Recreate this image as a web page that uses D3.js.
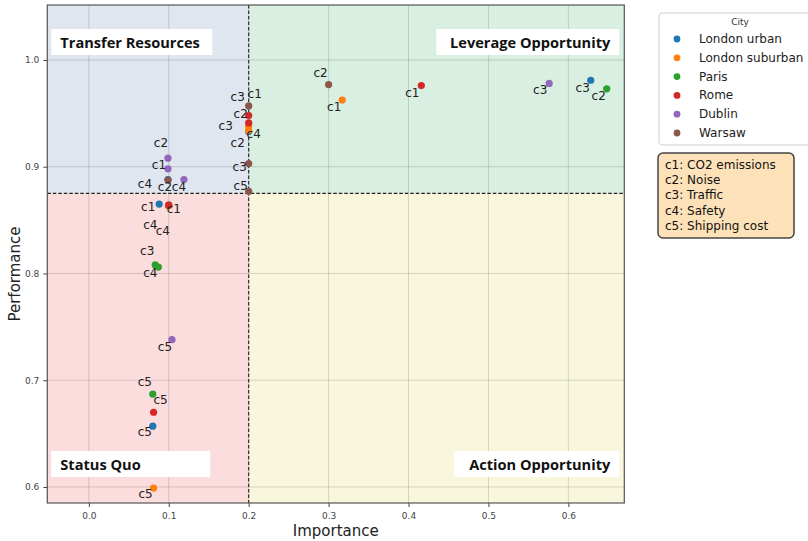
<!DOCTYPE html>
<html><head><meta charset="utf-8">
<script src="https://cdn.jsdelivr.net/npm/d3@7"></script>
<style>body{margin:0;background:#fff}svg{display:block}</style>
</head><body>
<svg id="chart" width="808" height="541"></svg>
<script>
// Cities, criteria and their colours
const cities = ["London urban", "London suburban", "Paris", "Rome", "Dublin", "Warsaw"];
const cityColors = ["#1f77b4", "#ff7f0e", "#2ca02c", "#d62728", "#9467bd", "#8c564b"];
const criteria = ["c1", "c2", "c3", "c4", "c5"];
const criteriaNames = ["CO2 emissions", "Noise", "Traffic", "Safety", "Shipping cost"];

// Importance of c1..c5 for each city
const importanceLondonUrban    = [0.088, 0.099, 0.628, 0.200, 0.080];
const importanceLondonSuburban = [0.317, 0.200, 0.200, 0.0995, 0.081];
const importanceParis          = [0.100, 0.648, 0.083, 0.087, 0.080];
const importanceRome           = [0.416, 0.200, 0.200, 0.100, 0.081];
const importanceDublin         = [0.099, 0.099, 0.576, 0.119, 0.104];
const importanceWarsaw         = [0.200, 0.300, 0.200, 0.099, 0.200];

// Performance of c1..c5 for each city
const performanceLondonUrban    = [0.865, 0.888, 0.981, 0.933, 0.657];
const performanceLondonSuburban = [0.9625, 0.938, 0.934, 0.8635, 0.599];
const performanceParis          = [0.864, 0.973, 0.808, 0.806, 0.687];
const performanceRome           = [0.976, 0.948, 0.941, 0.864, 0.670];
const performanceDublin         = [0.898, 0.908, 0.978, 0.888, 0.738];
const performanceWarsaw         = [0.957, 0.977, 0.903, 0.8875, 0.877];

// Quadrant thresholds and axis ticks
const importanceThreshold = 0.2;
const performanceThreshold = 0.875;
const xTicks = [0.0, 0.1, 0.2, 0.3, 0.4, 0.5, 0.6];
const yTicks = [0.6, 0.7, 0.8, 0.9, 1.0];

const importance = [importanceLondonUrban, importanceLondonSuburban, importanceParis,
                    importanceRome, importanceDublin, importanceWarsaw];
const performance = [performanceLondonUrban, performanceLondonSuburban, performanceParis,
                     performanceRome, performanceDublin, performanceWarsaw];

// Label nudges (text centre relative to its point, px), per city and criterion
const labelNudge = [
  [[-11, 3], [-3, 7], [-8, 8], [5, 2.5], [-8, 6]],
  [[-8, 7], [-11, 16.5], [-23, -4.5], [-18, 19], [-8, 6]],
  [[5, 4], [-8, 7], [-8, -14], [-8, 6], [-8, -12]],
  [[-9, 7], [-8, -1], [-11, -26], [-6, 26], [7, -12]],
  [[-9, -4], [-7, -15], [-9, 7], [-5, 7], [-7, 7]],
  [[6, -12], [-8, -12], [-9, 3], [-23, 4], [-8, -5.5]]
];

const points = [];
cities.forEach((city, i) => {
  criteria.forEach((c, j) => {
    points.push({city, ci: i, crit: c, x: importance[i][j], y: performance[i][j], nudge: labelNudge[i][j]});
  });
});

const svg = d3.select("#chart");
const plot = {left: 47.3, right: 624.3, top: 5, bottom: 503};

const x = d3.scaleLinear().domain([-0.052, 0.670]).range([plot.left, plot.right]);
const y = d3.scaleLinear().domain([0.585, 1.0515]).range([plot.bottom, plot.top]);

// Quadrant backgrounds
const [xd0, xd1] = x.domain();
const [yd0, yd1] = y.domain();
const quadrants = [
  {x0: xd0, x1: importanceThreshold, y0: performanceThreshold, y1: yd1, fill: "#dfe6f0"},
  {x0: importanceThreshold, x1: xd1, y0: performanceThreshold, y1: yd1, fill: "#d8efe1"},
  {x0: xd0, x1: importanceThreshold, y0: yd0, y1: performanceThreshold, fill: "#fbdddd"},
  {x0: importanceThreshold, x1: xd1, y0: yd0, y1: performanceThreshold, fill: "#f8f6dc"}
];
svg.append("g").selectAll("rect").data(quadrants).join("rect")
  .attr("x", d => x(d.x0)).attr("y", d => y(d.y1))
  .attr("width", d => x(d.x1) - x(d.x0)).attr("height", d => y(d.y0) - y(d.y1))
  .attr("fill", d => d.fill);

// Grid
const grid = svg.append("g").attr("stroke", "#000").attr("stroke-opacity", 0.14).attr("stroke-width", 1);
grid.selectAll(".gx").data(xTicks).join("line")
  .attr("x1", d => x(d)).attr("x2", d => x(d)).attr("y1", plot.top).attr("y2", plot.bottom);
grid.selectAll(".gy").data(yTicks).join("line")
  .attr("y1", d => y(d)).attr("y2", d => y(d)).attr("x1", plot.left).attr("x2", plot.right);

// Threshold lines
svg.append("line")
  .attr("x1", x(importanceThreshold)).attr("x2", x(importanceThreshold))
  .attr("y1", plot.top).attr("y2", plot.bottom)
  .attr("stroke", "#222").attr("stroke-width", 1.1).attr("stroke-dasharray", "3.5,2");
svg.append("line")
  .attr("y1", y(performanceThreshold)).attr("y2", y(performanceThreshold))
  .attr("x1", plot.left).attr("x2", plot.right)
  .attr("stroke", "#222").attr("stroke-width", 1.1).attr("stroke-dasharray", "3.5,2");

// Quadrant titles on white boxes
const titles = [
  {text: "Transfer Resources", bx: plot.left + 4, by: plot.top + 24, w: 161, anchor: "start"},
  {text: "Leverage Opportunity", bx: plot.right - 188, by: plot.top + 24, w: 183, anchor: "end"},
  {text: "Status Quo", bx: plot.left + 4, by: plot.bottom - 52, w: 159, anchor: "start"},
  {text: "Action Opportunity", bx: plot.right - 170, by: plot.bottom - 52, w: 165, anchor: "end"}
];
const tg = svg.append("g");
titles.forEach(t => {
  tg.append("rect").attr("x", t.bx).attr("y", t.by).attr("width", t.w).attr("height", 26).attr("fill", "#fff");
  tg.append("text")
    .attr("x", t.anchor === "start" ? t.bx + 9 : t.bx + t.w - 9)
    .attr("y", t.by + 18.5)
    .attr("text-anchor", t.anchor)
    .attr("font-family", "'Open Sans', sans-serif").attr("font-weight", 700).attr("font-size", 14.6)
    .attr("fill", "#111").text(t.text);
});

// Axes
const xAxis = d3.axisBottom(x).tickValues(xTicks).tickFormat(d3.format(".1f")).tickSize(4).tickPadding(6);
const yAxis = d3.axisLeft(y).tickValues(yTicks).tickFormat(d3.format(".1f")).tickSize(4).tickPadding(4);
const gx = svg.append("g").attr("transform", `translate(0,${plot.bottom})`).call(xAxis);
const gy = svg.append("g").attr("transform", `translate(${plot.left},0)`).call(yAxis);
[gx, gy].forEach(g => {
  g.select(".domain").remove();
  g.selectAll("line").attr("stroke", "#444");
  g.selectAll("text").attr("font-family", "'DejaVu Sans', sans-serif").attr("font-size", 9).attr("fill", "#444");
});

// Frame
svg.append("rect").attr("x", plot.left).attr("y", plot.top)
  .attr("width", plot.right - plot.left).attr("height", plot.bottom - plot.top)
  .attr("fill", "none").attr("stroke", "#555").attr("stroke-width", 1.2);

// Axis titles
svg.append("text").attr("x", (plot.left + plot.right) / 2).attr("y", 536)
  .attr("text-anchor", "middle").attr("font-family", "'DejaVu Sans', sans-serif").attr("font-size", 15)
  .attr("fill", "#222").text("Importance");
svg.append("text").attr("transform", `translate(20,${(plot.top + plot.bottom) / 2 + 20}) rotate(-90)`)
  .attr("text-anchor", "middle").attr("font-family", "'DejaVu Sans', sans-serif").attr("font-size", 15)
  .attr("fill", "#222").text("Performance");

// Points, drawn city by city
svg.append("g").selectAll("circle").data(points).join("circle")
  .attr("cx", d => x(d.x)).attr("cy", d => y(d.y)).attr("r", 3.6)
  .attr("fill", d => cityColors[d.ci]);

// Criterion labels
svg.append("g").selectAll("text").data(points).join("text")
  .attr("x", d => x(d.x) + d.nudge[0]).attr("y", d => y(d.y) + d.nudge[1])
  .attr("text-anchor", "middle").attr("dominant-baseline", "central")
  .attr("font-family", "'DejaVu Sans', sans-serif").attr("font-size", 12)
  .attr("fill", "#222").text(d => d.crit);

// City legend
const lg = svg.append("g").attr("transform", "translate(659,13)");
lg.append("rect").attr("width", 160).attr("height", 132).attr("rx", 3)
  .attr("fill", "#fff").attr("stroke", "#d0d0d0");
lg.append("text").attr("x", 81).attr("y", 12).attr("text-anchor", "middle")
  .attr("font-family", "'DejaVu Sans', sans-serif").attr("font-size", 9).attr("fill", "#333").text("City");
const items = lg.selectAll(".item").data(cities).join("g")
  .attr("transform", (d, i) => `translate(0,${26 + i * 18.8})`);
items.append("circle").attr("cx", 18).attr("cy", 0).attr("r", 3.4).attr("fill", (d, i) => cityColors[i]);
items.append("text").attr("x", 40).attr("y", 0).attr("dominant-baseline", "central")
  .attr("font-family", "'DejaVu Sans', sans-serif").attr("font-size", 12).attr("fill", "#222").text(d => d);

// Criteria key
const kg = svg.append("g").attr("transform", "translate(658,153)");
kg.append("rect").attr("width", 136).attr("height", 85).attr("rx", 5)
  .attr("fill", "#fde1b8").attr("stroke", "#444").attr("stroke-width", 1.5);
kg.selectAll("text").data(criteria).join("text")
  .attr("x", 7).attr("y", (d, i) => 11.5 + i * 15.4).attr("dominant-baseline", "central")
  .attr("font-family", "'DejaVu Sans', sans-serif").attr("font-size", 12).attr("fill", "#111")
  .text((d, i) => `${d}: ${criteriaNames[i]}`);
</script>
</body></html>
